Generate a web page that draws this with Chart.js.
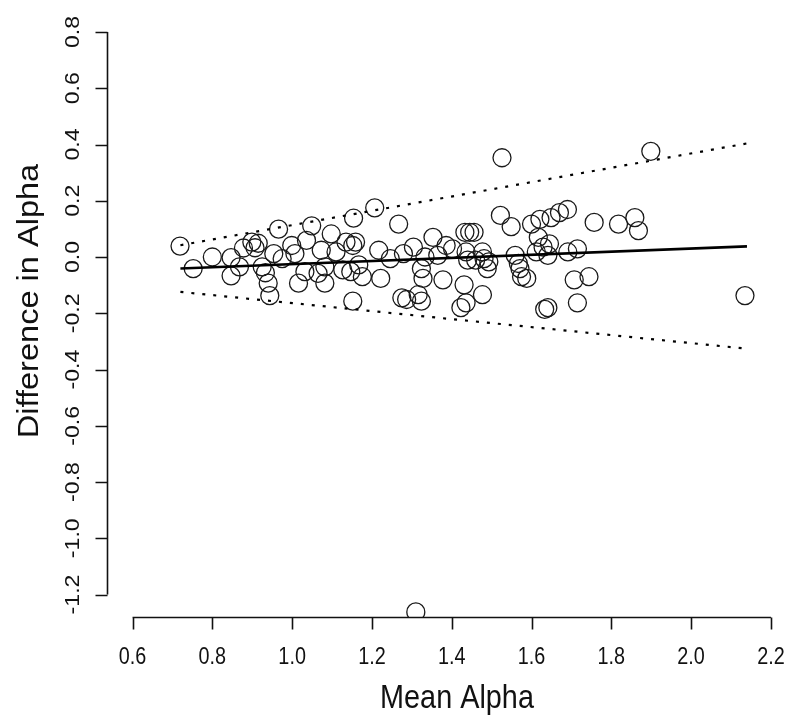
<!DOCTYPE html>
<html>
<head>
<meta charset="utf-8">
<script src="https://cdn.jsdelivr.net/npm/chart.js@4/dist/chart.umd.min.js"></script>
<style>
html,body{margin:0;padding:0;background:#fff;}
#c{display:block;}
</style>
</head>
<body>
<canvas id="c" width="800" height="726"></canvas>
<script>
// ---- data ----
const meanAlpha = [
 0.719,0.752,0.800,0.847,0.847,0.878,0.899,0.907,0.915,0.868,0.925,0.933,0.940,0.944,0.966,0.954,0.975,
 0.999,1.007,1.036,1.049,1.073,1.098,1.110,1.135,1.159,1.152,1.154,1.207,1.217,1.246,1.267,1.082,1.032,
 1.065,1.016,1.082,1.127,1.147,1.167,1.176,1.222,1.152,1.275,
 1.526,1.522,1.549,1.433,1.445,1.456,1.353,1.304,1.386,1.402,1.279,1.333,1.365,1.436,1.477,1.481,1.493,
 1.489,1.460,1.440,1.559,1.567,1.575,1.324,1.328,1.378,1.431,1.287,1.316,1.324,1.477,1.423,1.436,
 1.690,1.670,1.649,1.621,1.600,1.757,1.818,1.859,1.868,1.617,1.645,1.629,1.612,1.641,1.691,1.715,
 1.571,1.588,1.707,1.744,1.633,1.641,1.715,
 1.899,2.135,1.310
];
const diffAlpha = [
 0.039,-0.041,0.000,-0.002,-0.067,0.032,0.053,0.033,0.049,-0.035,-0.035,-0.056,-0.093,-0.137,0.099,0.012,-0.006,
 0.041,0.012,0.059,0.111,0.024,0.082,0.018,0.053,0.053,0.041,0.138,0.175,0.024,-0.006,0.117,-0.035,-0.052,
 -0.058,-0.093,-0.093,-0.046,-0.052,-0.028,-0.070,-0.076,-0.157,-0.145,
 0.353,0.148,0.108,0.088,0.088,0.088,0.070,0.035,0.041,0.029,0.012,0.000,0.006,0.018,0.018,-0.006,-0.017,
 -0.041,-0.011,-0.011,0.006,-0.023,-0.070,-0.041,-0.076,-0.081,-0.099,-0.151,-0.134,-0.157,-0.134,-0.180,-0.163,
 0.169,0.158,0.140,0.134,0.117,0.123,0.117,0.140,0.094,0.070,0.047,0.035,0.018,0.006,0.018,0.029,
 -0.041,-0.076,-0.081,-0.070,-0.186,-0.180,-0.163,
 0.376,-0.137,-1.262
];
const lineX  = [0.72, 2.14];
const biasY  = [-0.041, 0.038];
const upperY = [0.042, 0.404];
const lowerY = [-0.124, -0.326];

const xTicks = [0.6,0.8,1.0,1.2,1.4,1.6,1.8,2.0,2.2];
const xTickLabels = ["0.6","0.8","1.0","1.2","1.4","1.6","1.8","2.0","2.2"];
const yTicks = [-1.2,-1.0,-0.8,-0.6,-0.4,-0.2,0.0,0.2,0.4,0.6,0.8];
const yTickLabels = ["-1.2","-1.0","-0.8","-0.6","-0.4","-0.2","0.0","0.2","0.4","0.6","0.8"];
const xTitle = "Mean Alpha";
const yTitle = "Difference in Alpha";

// ---- build chart ----
const pts = meanAlpha.map((v,i)=>({x:v, y:diffAlpha[i]}));
const mk = ys => lineX.map((v,i)=>({x:v, y:ys[i]}));

const FONT = '"Liberation Sans", Arial, sans-serif';

const rAxes = {
  id: 'rAxes',
  afterDraw(chart){
    const ctx = chart.ctx, xs = chart.scales.x, ys = chart.scales.y, ca = chart.chartArea;
    ctx.save();
    ctx.strokeStyle = '#111';
    ctx.fillStyle = '#111';
    ctx.lineWidth = 1.6;
    // x axis
    const yb = Math.round(ca.bottom) + 0.5;
    ctx.beginPath();
    ctx.moveTo(xs.getPixelForValue(xTicks[0]), yb);
    ctx.lineTo(xs.getPixelForValue(xTicks[xTicks.length-1]), yb);
    xTicks.forEach(v=>{ const p = Math.round(xs.getPixelForValue(v))+0.5; ctx.moveTo(p,yb); ctx.lineTo(p,yb+12); });
    ctx.stroke();
    ctx.font = '22px ' + FONT;
    ctx.textAlign = 'center'; ctx.textBaseline = 'middle';
    xTickLabels.forEach((t,i)=>{
      ctx.save();
      ctx.translate(xs.getPixelForValue(xTicks[i]), yb+40);
      ctx.scale(0.9, 1.05);
      ctx.fillText(t, 0, 0);
      ctx.restore();
    });
    // y axis
    const xl = Math.round(ca.left) + 0.5;
    ctx.beginPath();
    ctx.moveTo(xl, ys.getPixelForValue(yTicks[0]));
    ctx.lineTo(xl, ys.getPixelForValue(yTicks[yTicks.length-1]));
    yTicks.forEach(v=>{ const p = Math.round(ys.getPixelForValue(v))+0.5; ctx.moveTo(xl,p); ctx.lineTo(xl-12,p); });
    ctx.stroke();
    yTickLabels.forEach((t,i)=>{
      ctx.save();
      ctx.translate(xl-34, ys.getPixelForValue(yTicks[i]));
      ctx.rotate(-Math.PI/2);
      ctx.scale(1.05, 0.9);
      ctx.fillText(t, 0, 0);
      ctx.restore();
    });
    // titles
    ctx.font = '31px ' + FONT;
    ctx.save();
    ctx.translate(457, 699);
    ctx.scale(0.93, 1.05);
    ctx.fillText(xTitle, 0, 0);
    ctx.restore();
    ctx.save();
    ctx.translate(30, 301);
    ctx.rotate(-Math.PI/2);
    ctx.scale(1.05, 0.93);
    ctx.fillText(yTitle, 0, 0);
    ctx.restore();
    ctx.restore();
  }
};

new Chart(document.getElementById('c'), {
  type: 'scatter',
  data: {
    datasets: [
      { label:'bias', type:'line', data: mk(biasY), borderColor:'#000', borderWidth:2.6,
        pointRadius:0, fill:false, order:0 },
      { label:'upper', type:'line', data: mk(upperY), borderColor:'#000', borderWidth:2.2,
        borderDash:[3,8], pointRadius:0, fill:false, order:0 },
      { label:'lower', type:'line', data: mk(lowerY), borderColor:'#000', borderWidth:2.2,
        borderDash:[3,8], pointRadius:0, fill:false, order:0 },
      { label:'points', data: pts, pointStyle:'circle', pointRadius:9, pointHoverRadius:9,
        borderColor:'#1a1a1a', borderWidth:1.3, backgroundColor:'rgba(0,0,0,0)', clip:0, order:1 }
    ]
  },
  options: {
    responsive:false,
    animation:false,
    events:[],
    layout:{ padding:{ left:107, right:0, top:0, bottom:109 } },
    plugins:{ legend:{display:false}, tooltip:{enabled:false}, title:{display:false} },
    scales:{
      x:{ type:'linear', display:false, min:0.536, max:2.2471 },
      y:{ type:'linear', display:false, min:-1.28, max:0.8773 }
    }
  },
  plugins:[rAxes]
});
</script>
</body>
</html>
